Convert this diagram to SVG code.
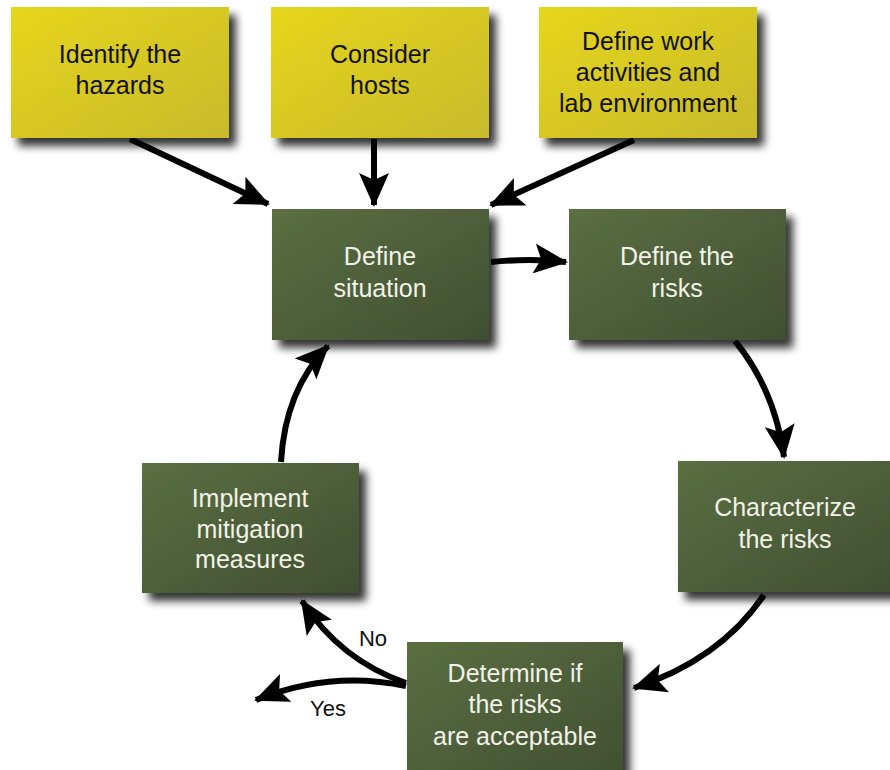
<svg xmlns="http://www.w3.org/2000/svg" width="890" height="770" viewBox="0 0 890 770">
<defs>
<linearGradient id="gy" x1="0" y1="0" x2="1" y2="1">
<stop offset="0" stop-color="#e6d61c"/>
<stop offset="1" stop-color="#c8ba2c"/>
</linearGradient>
<linearGradient id="gg" x1="0" y1="0" x2="1" y2="1">
<stop offset="0" stop-color="#5b6f42"/>
<stop offset="1" stop-color="#404f31"/>
</linearGradient>
<filter id="sh" x="-10%" y="-10%" width="130%" height="130%">
<feGaussianBlur in="SourceAlpha" stdDeviation="4"/>
<feOffset dx="7" dy="8" result="b"/>
<feComponentTransfer><feFuncA type="linear" slope="0.8"/></feComponentTransfer>
<feMerge><feMergeNode/><feMergeNode in="SourceGraphic"/></feMerge>
</filter>
<marker id="ah" viewBox="0 0 34 30" refX="32" refY="15" markerWidth="34" markerHeight="30" markerUnits="userSpaceOnUse" orient="auto">
<path d="M0,0 L34,15 L0,30 L7,15 Z" fill="#000"/>
</marker>
</defs>
<style>
.y{fill:url(#gy);filter:url(#sh)}
.g{fill:url(#gg);filter:url(#sh)}
text{font-family:"Liberation Sans",Arial,sans-serif;font-size:25px;text-anchor:middle}
.tb{fill:#111}
.tw{fill:#f2f2e8}
.c{fill:none;stroke:#000;stroke-width:6;marker-end:url(#ah)}
.lb{fill:#111;font-size:22px}
</style>
<rect width="890" height="770" fill="#fff"/>
<g id="connectors">
<path class="c" d="M130,139 L268,204"/>
<path class="c" d="M374,139 L374,205"/>
<path class="c" d="M634,140 L491,205"/>
<path class="c" d="M491,262 Q530,258 566,262"/>
<path class="c" d="M735,341 Q775,390 784,457"/>
<path class="c" d="M764,595 Q720,660 634,688"/>
<path class="c" d="M406,683 Q340,660 302,601"/>
<path class="c" d="M406,686 Q330,670 256,700"/>
<path class="c" d="M281,462 Q285,390 328,346"/>
<text class="lb" x="373" y="646">No</text>
<text class="lb" x="328" y="716">Yes</text>
</g>
<g id="n1"><rect class="y" x="11" y="7" width="218" height="131"/>
<text class="tb" x="120" y="63">Identify the</text><text class="tb" x="120" y="94">hazards</text></g>
<g id="n2"><rect class="y" x="271" y="7" width="218" height="131"/>
<text class="tb" x="380" y="63">Consider</text><text class="tb" x="380" y="94">hosts</text></g>
<g id="n3"><rect class="y" x="539" y="7" width="218" height="131"/>
<text class="tb" x="648" y="50">Define work</text><text class="tb" x="648" y="81">activities and</text><text class="tb" x="648" y="112">lab environment</text></g>
<g id="n4"><rect class="g" x="272" y="209" width="217" height="131"/>
<text class="tw" x="380" y="265">Define</text><text class="tw" x="380" y="297">situation</text></g>
<g id="n5"><rect class="g" x="569" y="209" width="217" height="131"/>
<text class="tw" x="677" y="265">Define the</text><text class="tw" x="677" y="297">risks</text></g>
<g id="n6"><rect class="g" x="678" y="461" width="217" height="131"/>
<text class="tw" x="785" y="516">Characterize</text><text class="tw" x="785" y="548">the risks</text></g>
<g id="n7"><rect class="g" x="407" y="642" width="216" height="140"/>
<text class="tw" x="515" y="682">Determine if</text><text class="tw" x="515" y="713">the risks</text><text class="tw" x="515" y="745">are acceptable</text></g>
<g id="n8"><rect class="g" x="142" y="463" width="217" height="130"/>
<text class="tw" x="250" y="507">Implement</text><text class="tw" x="250" y="538">mitigation</text><text class="tw" x="250" y="568">measures</text></g>
</svg>
